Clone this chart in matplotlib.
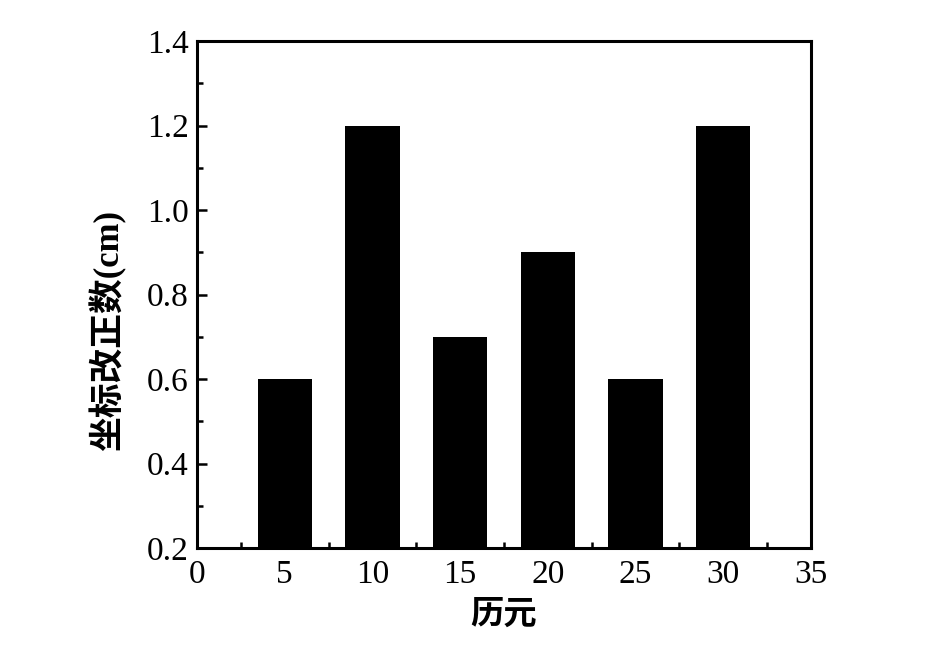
import matplotlib
matplotlib.use("Agg")
import matplotlib.pyplot as plt
from matplotlib.ticker import MultipleLocator

epochs = [5, 10, 15, 20, 25, 30]
corrections = [0.6, 1.2, 0.7, 0.9, 0.6, 1.2]
xticks = [0, 5, 10, 15, 20, 25, 30, 35]
yticks = [0.2, 0.4, 0.6, 0.8, 1.0, 1.2, 1.4]

plt.rcParams['font.family'] = ['Liberation Serif', 'Noto Sans CJK SC']

fig = plt.figure(figsize=(9.45, 6.49), dpi=100)
ax = fig.add_axes([0.2085, 0.1556, 0.6495, 0.7812])
ax.bar(epochs, [c - 0.2 for c in corrections], bottom=0.2, width=3.1, color='black')
ax.set_xlim(0, 35)
ax.set_ylim(0.2, 1.4)
ax.set_xticks(xticks)
ax.set_yticks(yticks)
ax.set_yticklabels([f"{v:.1f}" for v in yticks])
ax.xaxis.set_minor_locator(MultipleLocator(2.5))
ax.yaxis.set_minor_locator(MultipleLocator(0.1))
for s in ax.spines.values():
    s.set_linewidth(2.2)
ax.tick_params(which='both', direction='in', top=False, right=False, width=1.8, labelsize=24)
ax.tick_params(which='major', length=7)
ax.tick_params(which='minor', length=4)
ax.tick_params(axis='x', which='major', pad=8)
ax.tick_params(axis='y', which='major', pad=6)
ax.set_xlabel('历元', fontsize=24, family=['Noto Sans CJK SC'], fontweight='bold', labelpad=6)
ax.set_ylabel('坐标改正数(cm)', fontsize=25, family=['Liberation Serif', 'Noto Sans CJK SC'], fontweight='bold')
ax.yaxis.set_label_coords(-0.115, 0.43)
fig.savefig('out.png', dpi=100)
